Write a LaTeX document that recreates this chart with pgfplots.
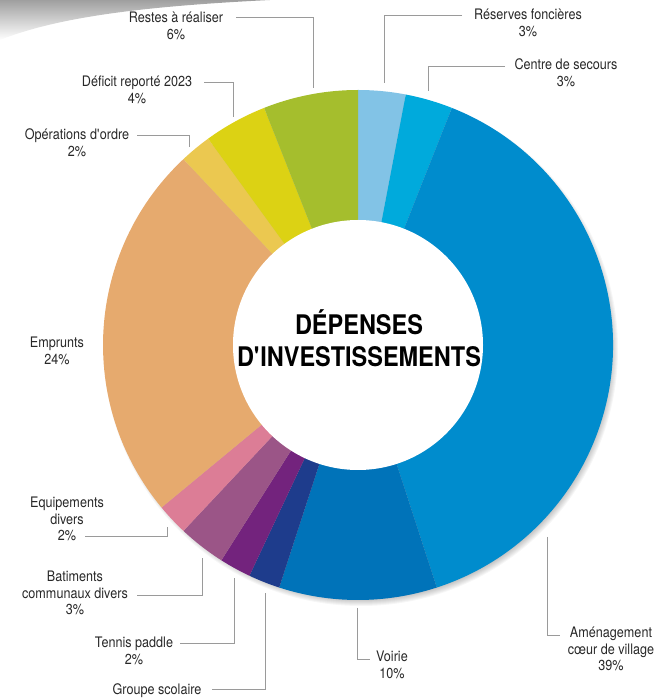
\documentclass[border=0pt]{standalone}
\usepackage{pgfplots}
\pgfplotsset{compat=1.18}
\usepackage{pgfplotstable}
\usepackage{fontspec}
\setmainfont{TeX Gyre Heros}[FakeStretch=0.87]

\definecolor{cResf}{HTML}{82C3E6}
\definecolor{cSec}{HTML}{00AADC}
\definecolor{cAmen}{HTML}{008CCD}
\definecolor{cVoir}{HTML}{0073B9}
\definecolor{cGrp}{HTML}{1E3C8C}
\definecolor{cTen}{HTML}{73237D}
\definecolor{cBat}{HTML}{9B5587}
\definecolor{cEqu}{HTML}{DC7D96}
\definecolor{cEmp}{HTML}{E6AA6E}
\definecolor{cOpe}{HTML}{EBC850}
\definecolor{cDef}{HTML}{DCD214}
\definecolor{cRes}{HTML}{A5BE2D}
\definecolor{labgray}{HTML}{282828}
\definecolor{leadgray}{HTML}{9A9A9A}

% share of each item, clockwise from the top
\pgfplotstableread{
pct col
3   cResf
3   cSec
39  cAmen
10  cVoir
2   cGrp
2   cTen
3   cBat
2   cEqu
24  cEmp
2   cOpe
4   cDef
6   cRes
}\slices

\tikzset{
  lab/.style={anchor=base, inner sep=0pt, text=labgray, font=\fontsize{14.5}{16.5}\selectfont},
  lead/.style={draw=leadgray, line width=0.9pt},
}

\begin{document}
\begin{tikzpicture}
\begin{axis}[
    scale only axis,
    width=658pt, height=699pt,
    xmin=0, xmax=658, ymin=-699, ymax=0,
    hide axis, clip=false,
  ]

% page curl in the corner
\shade[top color=gray!75, bottom color=white]
  (axis cs:0,0) -- (axis cs:270,0) .. controls (axis cs:150,-6) and (axis cs:60,-16) .. (axis cs:0,-40) -- cycle;

% soft shadow
\foreach \k in {1,...,8}{%
  \edef\temp{\noexpand\fill[black, opacity=0.035] (axis cs:361,-349) circle[radius=\the\numexpr 249+\k\relax pt];}%
  \temp
}

% slices
\gdef\cum{0}
\foreach \i in {0,...,11}{%
  \pgfplotstablegetelem{\i}{pct}\of\slices \let\p\pgfplotsretval
  \pgfplotstablegetelem{\i}{col}\of\slices \let\c\pgfplotsretval
  \pgfmathsetmacro\a{90-3.6*\cum}
  \pgfmathsetmacro\b{90-3.6*(\cum+\p)}
  \xdef\cum{\the\numexpr\cum+\p\relax}
  \edef\temp{\noexpand\fill[\c] (axis cs:358,-345) -- ++(\a:255pt) arc[start angle=\a, end angle=\b, radius=255pt] -- cycle;}%
  \temp
}
\fill[white] (axis cs:358,-345) circle[radius=125pt];

% title
\node[anchor=base, inner sep=0pt, font=\bfseries\fontsize{27}{32}\selectfont] at (axis cs:359,-335) {DÉPENSES};
\node[anchor=base, inner sep=0pt, font=\bfseries\fontsize{27}{32}\selectfont] at (axis cs:359,-367) {D\textquotesingle INVESTISSEMENTS};

% labels
\node[lab] at (axis cs:176,-23) {Restes à réaliser};
\node[lab] at (axis cs:176,-39.5) {6\%};
\draw[lead] (axis cs:236,-17) -- (axis cs:313,-17) -- (axis cs:313,-88);

\node[lab] at (axis cs:137,-87) {Déficit reporté 2023};
\node[lab] at (axis cs:137,-103.5) {4\%};
\draw[lead] (axis cs:204,-82) -- (axis cs:233,-82) -- (axis cs:233,-117);

\node[lab] at (axis cs:77,-140) {Opérations d\textquotesingle ordre};
\node[lab] at (axis cs:77,-156.5) {2\%};
\draw[lead] (axis cs:137,-135) -- (axis cs:189,-135) -- (axis cs:189,-147);

\node[lab] at (axis cs:528,-20) {Réserves foncières};
\node[lab] at (axis cs:528,-36.5) {3\%};
\draw[lead] (axis cs:462,-15) -- (axis cs:384,-15) -- (axis cs:384,-83);

\node[lab] at (axis cs:566,-70) {Centre de secours};
\node[lab] at (axis cs:566,-86.5) {3\%};
\draw[lead] (axis cs:505,-66) -- (axis cs:428,-66) -- (axis cs:428,-91);

\node[lab] at (axis cs:57,-348) {Emprunts};
\node[lab] at (axis cs:57,-364.5) {24\%};

\node[lab] at (axis cs:67,-508) {Equipements};
\node[lab] at (axis cs:67,-524.5) {divers};
\node[lab] at (axis cs:67,-541) {2\%};
\draw[lead] (axis cs:85,-536) -- (axis cs:167,-536) -- (axis cs:167,-527);

\node[lab] at (axis cs:75,-582) {Batiments};
\node[lab] at (axis cs:75,-598.5) {communaux divers};
\node[lab] at (axis cs:75,-615) {3\%};
\draw[lead] (axis cs:137,-595) -- (axis cs:202,-595) -- (axis cs:202,-558);

\node[lab] at (axis cs:134,-648) {Tennis paddle};
\node[lab] at (axis cs:134,-664.5) {2\%};
\draw[lead] (axis cs:180,-643) -- (axis cs:234,-643) -- (axis cs:234,-578);

% the share of this item lies below the reference's lower edge
\node[lab] at (axis cs:157,-694) {Groupe scolaire};
\draw[lead] (axis cs:212,-689) -- (axis cs:265,-689) -- (axis cs:265,-593);

\node[lab] at (axis cs:392,-662) {Voirie};
\node[lab] at (axis cs:392,-678.5) {10\%};
\draw[lead] (axis cs:357,-608) -- (axis cs:357,-659) -- (axis cs:370,-659);

\node[lab] at (axis cs:611,-638) {Aménagement};
\node[lab] at (axis cs:611,-654.5) {cœur de village};
\node[lab] at (axis cs:611,-671) {39\%};
\draw[lead] (axis cs:547,-537) -- (axis cs:547,-635) -- (axis cs:560,-635);

\end{axis}
\pgfresetboundingbox
\useasboundingbox (current axis.south west) rectangle (current axis.north east);
\end{tikzpicture}
\end{document}
